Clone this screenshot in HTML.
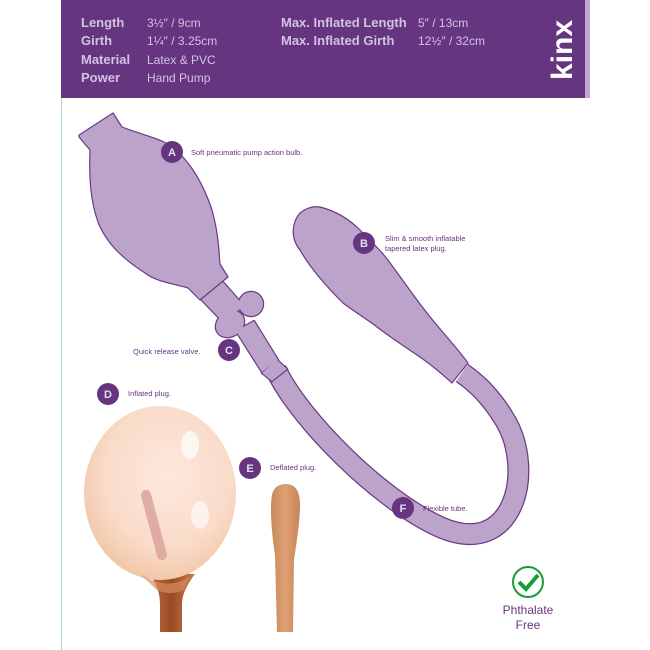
<!DOCTYPE html>
<html><head><meta charset="utf-8"><style>
html,body{margin:0;padding:0;background:#fff;}
body{width:650px;height:650px;overflow:hidden;position:relative;font-family:"Liberation Sans",sans-serif;}
</style></head><body>
<svg width="650" height="650" viewBox="0 0 650 650" xmlns="http://www.w3.org/2000/svg" style="position:absolute;left:0;top:0">
<defs>
<radialGradient id="bal" cx="0.55" cy="0.4" r="0.6">
<stop offset="0" stop-color="#fde8de"/><stop offset="0.7" stop-color="#f9dbc8"/><stop offset="1" stop-color="#f2c8aa"/>
</radialGradient>
<linearGradient id="stem" x1="0" x2="1"><stop offset="0" stop-color="#c2703e"/><stop offset="0.5" stop-color="#9a4a25"/><stop offset="1" stop-color="#c8804e"/></linearGradient>
<linearGradient id="def" x1="0" x2="1"><stop offset="0" stop-color="#c88a5c"/><stop offset="0.5" stop-color="#dda074"/><stop offset="1" stop-color="#c88458"/></linearGradient>
<g id="valve">
<path d="M201 299 L222 281 L244 306 L223 322 Z"/>
<circle cx="251" cy="304" r="12"/>
<path d="M262 372 L236 331 L254 321 L278 360 Z"/>
<ellipse cx="230" cy="324" rx="15" ry="12" transform="rotate(-35 230 324)"/>
<path d="M262 373 L277 360 L287 369 L272 381 Z"/>
</g>
</defs>
<line x1="61.5" y1="98" x2="61.5" y2="650" stroke="#9fd8cc" stroke-width="1"/>
<rect x="61" y="0" width="524" height="98" fill="#663580"/>
<rect x="585" y="0" width="5" height="98" fill="#c1a5d2"/>
<g font-size="13" font-weight="bold" fill="#d4c2e2">
<text x="81" y="27">Length</text><text x="81" y="45">Girth</text><text x="81" y="64">Material</text><text x="81" y="82">Power</text>
<text x="281" y="27">Max. Inflated Length</text><text x="281" y="45">Max. Inflated Girth</text>
</g>
<g font-size="12" fill="#d4c2e2">
<text x="147" y="27">3½″ / 9cm</text><text x="147" y="45">1¼″ / 3.25cm</text><text x="147" y="64">Latex &amp; PVC</text><text x="147" y="82">Hand Pump</text>
<text x="418" y="27">5″ / 13cm</text><text x="418" y="45">12½″ / 32cm</text>
</g>
<text transform="translate(572,80) rotate(-90)" font-size="30" font-weight="bold" fill="#fff">kinx</text>

<!-- tube -->
<path d="M276 370 C300 420 380 500 440 527 C515 560 535 470 505 420 C490 395 475 382 462 373" fill="none" stroke="#6a3a85" stroke-width="22"/>
<path d="M276 370 C300 420 380 500 440 527 C515 560 535 470 505 420 C490 395 475 382 462 373" fill="none" stroke="#bba3ca" stroke-width="19.5"/>
<!-- valve: outline then fill -->
<use href="#valve" fill="#6a3a85" stroke="#6a3a85" stroke-width="2.4" stroke-linejoin="round"/>
<use href="#valve" fill="#bba3ca"/>
<g fill="#bba3ca" stroke="#6a3a85" stroke-width="1.2" stroke-linejoin="round">
<!-- bulb -->
<path d="M79 135 L113 113 L122 127 C135 132 150 136 162 141 C185 152 202 180 212 210 C219 235 219 255 220 264 L228 277 L200 300 L188 288 C170 283 155 281 145 273 C125 260 107 245 98 222 C90 200 89 175 90 150 L79 137 Z"/>
<!-- plug B -->
<path d="M320 207 C340 212 352 222 360 230 C375 245 385 255 393 267 C405 283 415 298 427 313 C440 330 455 345 468 363 L452 383 C440 372 430 364 420 357 C405 347 390 337 377 327 C365 318 352 310 343 303 C325 285 310 268 300 250 C290 238 292 222 300 213 C306 208 313 206 320 207 Z"/>
</g>
<!-- balloon -->
<path d="M148 572 C158 585 160 595 160 605 L160 632 L182 632 L182 605 C182 595 186 586 195 574 Z" fill="url(#stem)"/>
<ellipse cx="160" cy="493" rx="76" ry="87" fill="url(#bal)"/>
<path d="M140 574 Q168 592 190 576 L184 590 Q170 596 157 590 Z" fill="#d68c5e" opacity="0.7"/>
<line x1="146" y1="495" x2="162" y2="555" stroke="#d9a09a" stroke-width="10" stroke-linecap="round" opacity="0.8"/>
<ellipse cx="190" cy="445" rx="9" ry="14" fill="#fff" opacity="0.7"/>
<ellipse cx="200" cy="515" rx="9" ry="14" fill="#fff" opacity="0.6"/>
<!-- deflated -->
<path d="M277 632 L275 555 C271 530 270 505 272 495 C274 485 282 484 286 484 C296 484 300 492 300 505 C300 520 297 540 294 560 L293 632 Z" fill="url(#def)"/>

<!-- markers -->
<g fill="#663580">
<circle cx="172" cy="152" r="11"/><circle cx="364" cy="243" r="11"/><circle cx="229" cy="350" r="11"/>
<circle cx="108" cy="394" r="11"/><circle cx="250" cy="468" r="11"/><circle cx="403" cy="508" r="11"/>
</g>
<g fill="#e6dcef" font-size="11" font-weight="bold" text-anchor="middle">
<text x="172" y="156">A</text><text x="364" y="247">B</text><text x="229" y="354">C</text>
<text x="108" y="398">D</text><text x="250" y="472">E</text><text x="403" y="512">F</text>
</g>
<g fill="#663580" font-size="7.5">
<text x="191" y="155">Soft pneumatic pump action bulb.</text>
<text x="385" y="241">Slim &amp; smooth inflatable</text><text x="385" y="251">tapered latex plug.</text>
<text x="133" y="354">Quick release valve.</text>
<text x="128" y="396">Inflated plug.</text>
<text x="270" y="470">Deflated plug.</text>
<text x="423" y="511">Flexible tube.</text>
</g>
<circle cx="528" cy="582" r="15" fill="none" stroke="#1a9a3a" stroke-width="2"/>
<path d="M519 582 L526 589 L538 575" fill="none" stroke="#1a9a3a" stroke-width="4"/>
<g fill="#663580" font-size="12" text-anchor="middle"><text x="528" y="614">Phthalate</text><text x="528" y="629">Free</text></g>
</svg>
</body></html>
